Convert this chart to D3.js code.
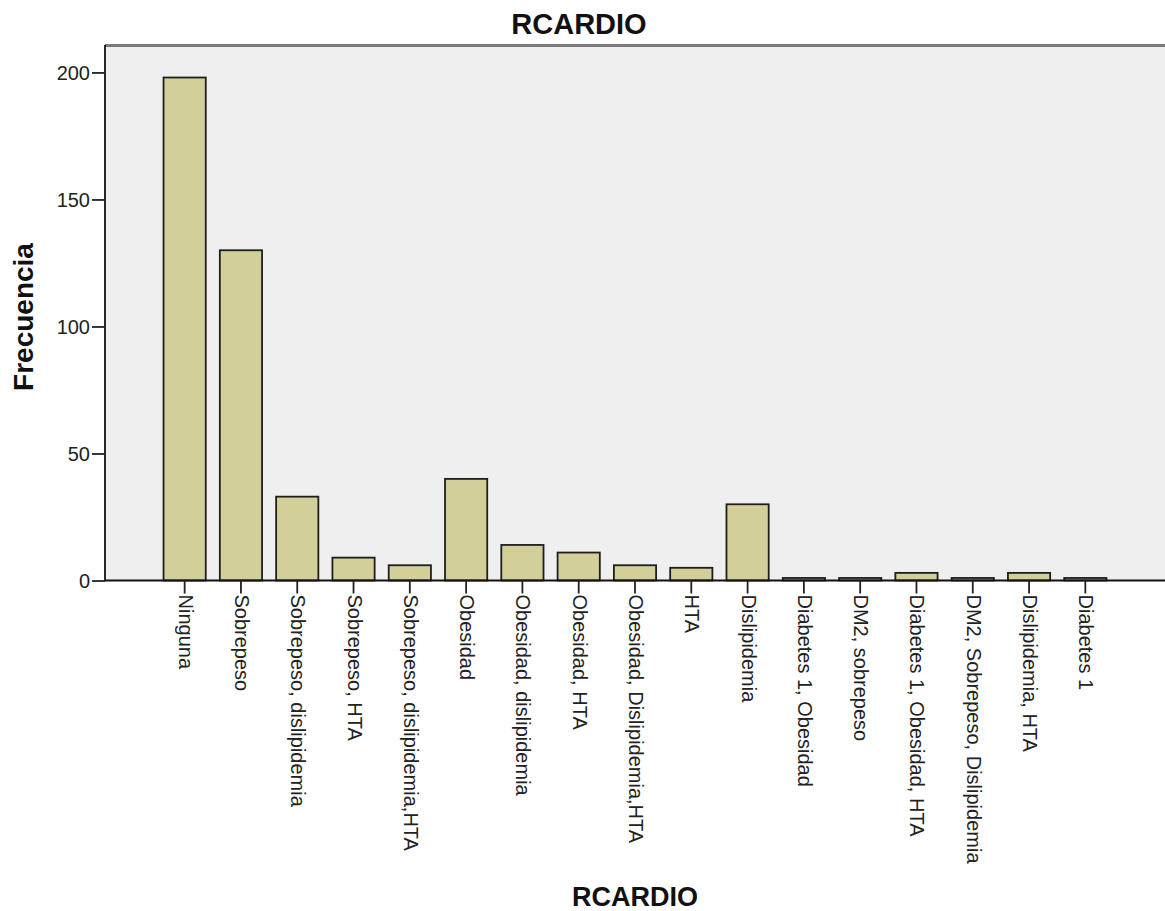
<!DOCTYPE html>
<html><head><meta charset="utf-8">
<script src="https://cdn.jsdelivr.net/npm/d3@7"></script>
<style>body{margin:0;background:#fff}svg{display:block}</style>
</head><body>
<svg id="c" width="1165" height="911"></svg>
<script>
const categories = ["Ninguna","Sobrepeso","Sobrepeso, dislipidemia","Sobrepeso, HTA","Sobrepeso, dislipidemia,HTA","Obesidad","Obesidad, dislipidemia","Obesidad, HTA","Obesidad, Dislipidemia,HTA","HTA","Dislipidemia","Diabetes 1, Obesidad","DM2, sobrepeso","Diabetes 1, Obesidad, HTA","DM2, Sobrepeso, Dislipidemia","Dislipidemia, HTA","Diabetes 1"];
const values = [198,130,33,9,6,40,14,11,6,5,30,1,1,3,1,3,1];
const yTicks = [0,50,100,150,200];

const FONT = "Arial, 'Liberation Sans', sans-serif";
const svg = d3.select("#c");
const L = 105, R = 1165, T = 45, B = 580.5;
const x = d3.scaleBand().domain(categories).range([L, R]).paddingInner(0.25).paddingOuter(1.04);
const y = d3.scaleLinear().domain([0, 210.8]).range([B, T]);

svg.append("rect").attr("x", L).attr("y", T).attr("width", R - L).attr("height", B - T).attr("fill", "#efefef");
svg.append("line").attr("x1", L).attr("x2", R).attr("y1", T + 0.5).attr("y2", T + 0.5).attr("stroke", "#7a7a7a").attr("stroke-width", 3);

svg.append("g").selectAll("rect").data(values).join("rect")
  .attr("x", (d, i) => x(categories[i]))
  .attr("width", x.bandwidth())
  .attr("y", d => y(d))
  .attr("height", d => B - y(d))
  .attr("fill", "#d3cf98").attr("stroke", "#1e1e1e").attr("stroke-width", 1.8);

const ya = svg.append("g").attr("transform", `translate(${L},0)`)
  .call(d3.axisLeft(y).tickValues(yTicks).tickSize(13).tickSizeOuter(0).tickFormat(d3.format("d")));
ya.select(".domain").attr("stroke", "#111").attr("stroke-width", 1.8).attr("d", `M0,${T}V${B}`);
ya.selectAll(".tick line").attr("stroke", "#222").attr("stroke-width", 1.8);
ya.selectAll(".tick text").attr("font-family", FONT).attr("font-size", 20).attr("fill", "#222").attr("x", -15).attr("dy", "0.34em");

const xa = svg.append("g").attr("transform", `translate(0,${B})`)
  .call(d3.axisBottom(x).tickSize(13).tickSizeOuter(0));
xa.select(".domain").attr("stroke", "#111").attr("stroke-width", 1.8).attr("d", `M${L},0H${R}`);
xa.selectAll(".tick line").attr("stroke", "#222").attr("stroke-width", 1.8);
xa.selectAll(".tick text").attr("font-family", FONT).attr("font-size", 20).attr("fill", "#222")
  .attr("transform", "rotate(90)").attr("text-anchor", "start").attr("x", 14).attr("y", 0).attr("dy", "0.3em");

svg.append("text").attr("x", 579).attr("y", 34).attr("text-anchor", "middle")
  .attr("font-family", FONT).attr("font-weight", "bold").attr("font-size", 29).attr("fill", "#111").text("RCARDIO");
svg.append("text").attr("x", 635).attr("y", 906).attr("text-anchor", "middle")
  .attr("font-family", FONT).attr("font-weight", "bold").attr("font-size", 27).attr("fill", "#111").text("RCARDIO");
svg.append("text").attr("transform", "translate(33,317) rotate(-90)").attr("text-anchor", "middle")
  .attr("font-family", FONT).attr("font-weight", "bold").attr("font-size", 28).attr("fill", "#111").text("Frecuencia");
</script>
</body></html>
